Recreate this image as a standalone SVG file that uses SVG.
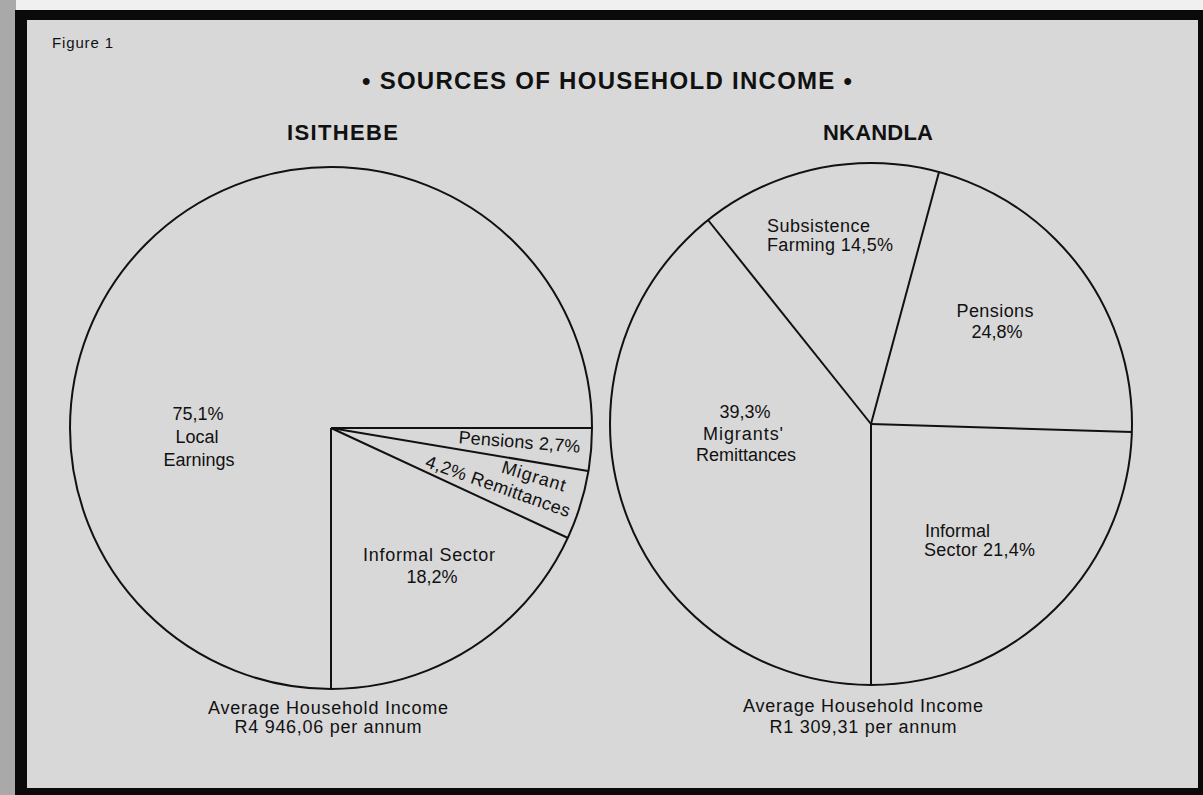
<svg xmlns="http://www.w3.org/2000/svg" width="1203" height="795" viewBox="0 0 1203 795">
  <style>
    .lbl { font-family: "Liberation Sans", Arial, sans-serif; font-size: 18px; fill: #111; }
    .hdr { font-family: "Liberation Sans", Arial, sans-serif; font-size: 22px; font-weight: bold; fill: #111; }
    .ttl { font-family: "Liberation Sans", Arial, sans-serif; font-size: 24px; font-weight: bold; fill: #111; }
    .pie { fill: none; stroke: #111; stroke-width: 2; }
    .cut { stroke: #111; stroke-width: 2; fill: none; }
    .mid { text-anchor: middle; }
  </style>
  <!-- page -->
  <rect x="0" y="0" width="1203" height="795" fill="#f0f0f0"/>
  <rect x="0" y="0" width="16" height="795" fill="#a9a9a9"/>
  <rect x="21" y="15" width="1178" height="776" fill="#d8d8d8"/>
  <!-- frame -->
  <g id="frame" fill="#0a0a0a">
    <rect x="15" y="10" width="1188" height="10"/>
    <rect x="15" y="10" width="12" height="785"/>
    <rect x="15" y="788" width="1188" height="7"/>
    <rect x="1198" y="10" width="5" height="785"/>
  </g>

  <g id="caption">
    <text class="lbl" x="52" y="48" style="font-size:15px" textLength="61" lengthAdjust="spacing">Figure 1</text>
    <text class="ttl mid" x="607" y="89" textLength="490" lengthAdjust="spacing">• SOURCES OF HOUSEHOLD INCOME •</text>
  </g>

  <!-- ISITHEBE pie -->
  <g id="isithebe">
    <text class="hdr" x="287" y="140" textLength="111" lengthAdjust="spacing">ISITHEBE</text>
    <circle class="pie" cx="331" cy="428" r="261"/>
    <g class="connectors">
      <line class="cut" x1="331" y1="428" x2="592" y2="428"/>
      <line class="cut" x1="331" y1="428" x2="588" y2="471"/>
      <line class="cut" x1="331" y1="428" x2="568" y2="538"/>
      <line class="cut" x1="331" y1="428" x2="331" y2="689"/>
    </g>
    <g id="isithebe-local">
      <text class="lbl mid" x="198" y="420">75,1%</text>
      <text class="lbl mid" x="197" y="443">Local</text>
      <text class="lbl mid" x="199" y="466">Earnings</text>
    </g>
    <g id="isithebe-pensions">
      <text class="lbl mid" x="519" y="448" transform="rotate(4.5 519 448)" textLength="122" lengthAdjust="spacing">Pensions 2,7%</text>
    </g>
    <g id="isithebe-migrant">
      <text class="lbl mid" x="532" y="482" transform="rotate(17 532 482)" textLength="66" lengthAdjust="spacing">Migrant</text>
      <text class="lbl mid" x="496" y="492" transform="rotate(19.5 496 492)" textLength="152" lengthAdjust="spacing">4,2% Remittances</text>
    </g>
    <g id="isithebe-informal">
      <text class="lbl mid" x="429" y="561" textLength="132" lengthAdjust="spacing">Informal Sector</text>
      <text class="lbl mid" x="432" y="583">18,2%</text>
    </g>
    <g id="isithebe-average">
      <text class="lbl mid" x="328" y="714" textLength="240" lengthAdjust="spacing">Average Household Income</text>
      <text class="lbl mid" x="328" y="733" textLength="187" lengthAdjust="spacing">R4  946,06 per annum</text>
    </g>
  </g>

  <!-- NKANDLA pie -->
  <g id="nkandla">
    <text class="hdr" x="823" y="140" textLength="110" lengthAdjust="spacing">NKANDLA</text>
    <circle class="pie" cx="871" cy="424" r="261"/>
    <g class="connectors">
      <line class="cut" x1="871" y1="424" x2="1132" y2="432"/>
      <line class="cut" x1="871" y1="424" x2="939" y2="172"/>
      <line class="cut" x1="871" y1="424" x2="708" y2="220"/>
      <line class="cut" x1="871" y1="424" x2="871" y2="685"/>
    </g>
    <g id="nkandla-subsistence">
      <text class="lbl" x="767" y="232" textLength="103" lengthAdjust="spacing">Subsistence</text>
      <text class="lbl" x="767" y="251" textLength="126" lengthAdjust="spacing">Farming 14,5%</text>
    </g>
    <g id="nkandla-pensions">
      <text class="lbl mid" x="995" y="317" textLength="77" lengthAdjust="spacing">Pensions</text>
      <text class="lbl mid" x="997" y="338">24,8%</text>
    </g>
    <g id="nkandla-migrants">
      <text class="lbl mid" x="745" y="418">39,3%</text>
      <text class="lbl mid" x="743" y="440" textLength="80" lengthAdjust="spacing">Migrants'</text>
      <text class="lbl mid" x="746" y="461">Remittances</text>
    </g>
    <g id="nkandla-informal">
      <text class="lbl" x="925" y="537">Informal</text>
      <text class="lbl" x="924" y="556" textLength="111" lengthAdjust="spacing">Sector 21,4%</text>
    </g>
    <g id="nkandla-average">
      <text class="lbl mid" x="863" y="712" textLength="240" lengthAdjust="spacing">Average Household Income</text>
      <text class="lbl mid" x="863" y="733" textLength="187" lengthAdjust="spacing">R1  309,31 per annum</text>
    </g>
  </g>
</svg>
